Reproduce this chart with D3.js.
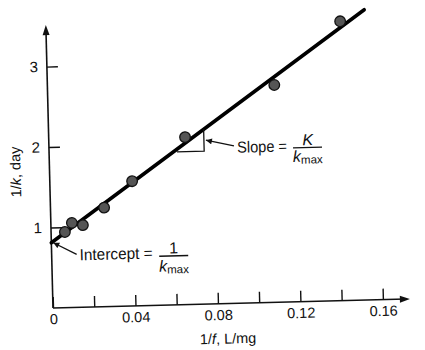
<!DOCTYPE html>
<html>
<head>
<meta charset="utf-8">
<script src="https://cdn.jsdelivr.net/npm/d3@7"></script>
<style>
  html, body { margin: 0; padding: 0; background: #fff; }
  svg { display: block; }
</style>
</head>
<body>
<script>
// Lineweaver-Burk style plot: 1/k against 1/f
const invF = [0.0067, 0.0102, 0.0155, 0.026, 0.0399, 0.0661, 0.110, 0.1427]; // 1/f, L/mg
const invK = [0.94, 1.05, 1.02, 1.23, 1.55, 2.08, 2.70, 3.47];               // 1/k, day

// fitted straight line: 1/k = intercept + slope * (1/f)
const fitIntercept = 0.81;
const fitSlope = 18.1;
const fitExtent = [0, 0.1545];

const xTickValues = [0, 0.02, 0.04, 0.06, 0.08, 0.10, 0.12, 0.14, 0.16];
const xTickLabels = ["0", "0.04", "0.08", "0.12", "0.16"];
const yTickValues = [1, 2, 3];
const yTickLabels = ["1", "2", "3"];

// slope triangle drawn under the line
const triangleX = [0.062, 0.0752];
const triangleBase = 1.9;

const W = 425, H = 350;
const FONT = "'Liberation Sans', Arial, Helvetica, sans-serif";
const INK = "#111";

const svg = d3.select("body").append("svg")
  .attr("width", W).attr("height", H)
  .attr("viewBox", `0 0 ${W} ${H}`);

// plot frame, origin at the axes corner, slightly tilted
const frame = svg.append("g")
  .attr("transform", "translate(53,308) rotate(-1.45)");

const x = d3.scaleLinear().domain([0, 0.16]).range([0, 330]);
const y = d3.scaleLinear().domain([0, 3]).range([0, -241.5]);

// axis lines with arrowheads
const xEnd = 357, yEnd = -283;
frame.append("line")
  .attr("x1", 0).attr("y1", 0).attr("x2", xEnd - 4).attr("y2", 0)
  .attr("stroke", INK).attr("stroke-width", 1.6);
frame.append("path")
  .attr("d", `M${xEnd},0 L${xEnd - 10},-3.5 L${xEnd - 10},3.5 Z`)
  .attr("fill", INK);
frame.append("line")
  .attr("x1", 0).attr("y1", 0).attr("x2", 0).attr("y2", yEnd + 4)
  .attr("stroke", INK).attr("stroke-width", 1.6);
frame.append("path")
  .attr("d", `M0,${yEnd} L-3.5,${yEnd + 10} L3.5,${yEnd + 10} Z`)
  .attr("fill", INK);

const fmtX = d => {
  const s = d === 0 ? "0" : d3.format(".2f")(d);
  return xTickLabels.includes(s) ? s : "";
};
const fmtY = d => {
  const s = String(d);
  return yTickLabels.includes(s) ? s : "";
};

const xAxis = frame.append("g")
  .call(d3.axisBottom(x).tickValues(xTickValues).tickFormat(fmtX)
    .tickSizeInner(-11).tickSizeOuter(0).tickPadding(6));
const yAxis = frame.append("g")
  .call(d3.axisLeft(y).tickValues(yTickValues).tickFormat(fmtY)
    .tickSizeInner(-11).tickSizeOuter(0).tickPadding(9));

[xAxis, yAxis].forEach(g => {
  g.select(".domain").remove();
  g.attr("font-family", FONT).attr("font-size", 15);
  g.selectAll(".tick line").attr("stroke", INK).attr("stroke-width", 1.4);
  g.selectAll(".tick text").attr("fill", INK);
});
xAxis.selectAll(".tick text").attr("font-size", 14.5);

// axis titles
const xTitle = frame.append("text")
  .attr("x", x(0.0845)).attr("y", 40)
  .attr("text-anchor", "middle")
  .attr("font-family", FONT).attr("font-size", 14.5).attr("fill", INK);
xTitle.append("tspan").text("1/");
xTitle.append("tspan").attr("font-style", "italic").text("f");
xTitle.append("tspan").text(", L/mg");

const yTitle = frame.append("text")
  .attr("transform", `translate(-29,${y(1.7)}) rotate(-90)`)
  .attr("text-anchor", "middle")
  .attr("font-family", FONT).attr("font-size", 14.5).attr("fill", INK);
yTitle.append("tspan").text("1/");
yTitle.append("tspan").attr("font-style", "italic").text("k");
yTitle.append("tspan").text(", day");

// fitted line
const fitLine = d3.line()
  .x(d => x(d))
  .y(d => y(fitIntercept + fitSlope * d));
frame.append("path")
  .datum(fitExtent)
  .attr("d", fitLine)
  .attr("fill", "none")
  .attr("stroke", "#000")
  .attr("stroke-width", 3.6)
  .attr("stroke-linecap", "round");

// slope triangle
const triTop = fitIntercept + fitSlope * triangleX[1];
frame.append("path")
  .attr("d", d3.line()([
    [x(triangleX[0]), y(triangleBase)],
    [x(triangleX[1]), y(triangleBase)],
    [x(triangleX[1]), y(triTop)]
  ]))
  .attr("fill", "none").attr("stroke", INK).attr("stroke-width", 1.3);

// data points
frame.append("g")
  .selectAll("circle")
  .data(invF.map((f, i) => [f, invK[i]]))
  .join("circle")
  .attr("cx", d => x(d[0]))
  .attr("cy", d => y(d[1]))
  .attr("r", 5.3)
  .attr("fill", "#555")
  .attr("stroke", "#111")
  .attr("stroke-width", 1.3);

// annotation arrows
const defs = svg.append("defs");
defs.append("marker")
  .attr("id", "head")
  .attr("viewBox", "0 0 10 10")
  .attr("refX", 10).attr("refY", 5)
  .attr("markerWidth", 7).attr("markerHeight", 6)
  .attr("markerUnits", "userSpaceOnUse")
  .attr("orient", "auto")
  .append("path").attr("d", "M0,0 L10,5 L0,10 Z").attr("fill", INK);

function fraction(g, cx, lineY, halfW, top, bottomNode) {
  g.append("line")
    .attr("x1", cx - halfW).attr("x2", cx + halfW)
    .attr("y1", lineY).attr("y2", lineY)
    .attr("stroke", INK).attr("stroke-width", 1.4);
}

function kmax(g, cx, baseline) {
  const t = g.append("text")
    .attr("x", cx).attr("y", baseline)
    .attr("text-anchor", "middle")
    .attr("font-family", FONT).attr("font-size", 16).attr("fill", INK);
  t.append("tspan").attr("font-style", "italic").text("k");
  t.append("tspan").attr("font-size", 11.5).attr("dy", 2).text("max");
}

// Intercept = 1 / k_max
const ann = frame.append("g");
const intX = 28, intBase = -47;
ann.append("line")
  .attr("x1", intX - 3).attr("y1", intBase - 6)
  .attr("x2", x(0) + 2).attr("y2", y(fitIntercept))
  .attr("stroke", INK).attr("stroke-width", 1.3)
  .attr("marker-end", "url(#head)");
ann.append("text")
  .attr("x", intX).attr("y", intBase)
  .attr("font-family", FONT).attr("font-size", 16).attr("fill", INK)
  .attr("textLength", 73).attr("lengthAdjust", "spacingAndGlyphs")
  .text("Intercept =");
fraction(ann, 122, intBase - 2, 14.5);
ann.append("text")
  .attr("x", 122).attr("y", intBase - 4.5)
  .attr("text-anchor", "middle")
  .attr("font-family", FONT).attr("font-size", 16).attr("fill", INK)
  .text("1");
kmax(ann, 122, intBase + 13.5);

// Slope = K / k_max
const slX = 188, slBase = -150.5;
ann.append("line")
  .attr("x1", slX - 3).attr("y1", slBase - 7)
  .attr("x2", x(triangleX[1]) + 2).attr("y2", y((triangleBase + triTop) / 2))
  .attr("stroke", INK).attr("stroke-width", 1.3)
  .attr("marker-end", "url(#head)");
ann.append("text")
  .attr("x", slX).attr("y", slBase)
  .attr("font-family", FONT).attr("font-size", 16).attr("fill", INK)
  .attr("textLength", 50).attr("lengthAdjust", "spacingAndGlyphs")
  .text("Slope =");
fraction(ann, 258.5, slBase - 3.5, 14.5);
ann.append("text")
  .attr("x", 259).attr("y", slBase - 6)
  .attr("text-anchor", "middle")
  .attr("font-family", FONT).attr("font-size", 16)
  .attr("font-style", "italic").attr("fill", INK)
  .text("K");
kmax(ann, 258.5, slBase + 10.5);
</script>
</body>
</html>
